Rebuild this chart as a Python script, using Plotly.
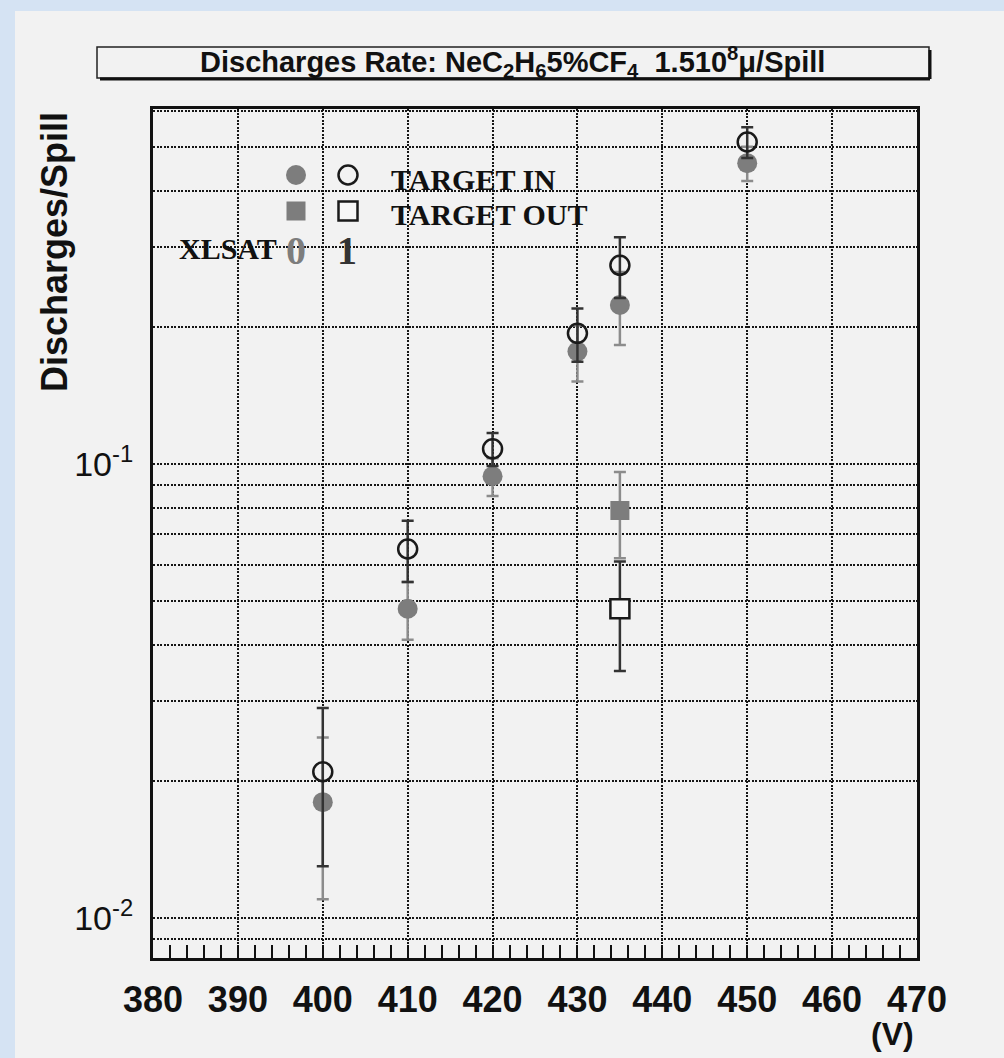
import plotly.graph_objects as go

# ---------------- data ----------------
voltage_in = [400, 410, 420, 430, 435, 450]
in_xlsat0 = [0.018, 0.048, 0.094, 0.177, 0.224, 0.46]
in_xlsat0_err = [0.007, 0.007, 0.009, 0.025, 0.041, 0.04]
in_xlsat1 = [0.021, 0.065, 0.108, 0.194, 0.274, 0.512]
in_xlsat1_err = [0.008, 0.010, 0.009, 0.026, 0.042, 0.04]

voltage_out = [435]
out_xlsat0 = [0.079]
out_xlsat0_err = [0.017]
out_xlsat1 = [0.048]
out_xlsat1_err = [0.013]

x_ticks = [380, 390, 400, 410, 420, 430, 440, 450, 460, 470]
y_major_ticks = [0.01, 0.1]
y_major_labels = ["10<sup>-2</sup>", "10<sup>-1</sup>"]
y_minor_ticks = [0.009, 0.02, 0.03, 0.04, 0.05, 0.06, 0.07, 0.08, 0.09,
                 0.2, 0.3, 0.4, 0.5, 0.6]

title_text = ("Discharges Rate: NeC<sub>2</sub>H<sub>6</sub>5%CF<sub>4</sub>"
              "&nbsp;&nbsp;1.510<sup>8</sup>\u03bc/Spill")

# ---------------- layout helpers ----------------
W, H = 1004, 1058
L, R, T, B = 153, 917, 109, 958


def fx(px):
    return (px - L) / (R - L)


def fy(py):
    return (B - py) / (B - T)


GRAY_BG = "#f2f2f2"
BLUE_BG = "#d5e3f3"
FILL_GRAY = "#7d7d7d"
GRID_COLOR = "#161616"
GRID_DASH = "2px,1.5px"

fig = go.Figure()

# filled (XLSAT 0) target in
fig.add_trace(go.Scatter(
    x=voltage_in, y=in_xlsat0, mode="markers",
    marker=dict(symbol="circle", size=20, color=FILL_GRAY),
    error_y=dict(type="data", array=in_xlsat0_err, color="#8c8c8c",
                 thickness=2.5, width=6),
    showlegend=False))
# filled (XLSAT 0) target out
fig.add_trace(go.Scatter(
    x=voltage_out, y=out_xlsat0, mode="markers",
    marker=dict(symbol="square", size=19, color=FILL_GRAY),
    error_y=dict(type="data", array=out_xlsat0_err, color="#8c8c8c",
                 thickness=2.5, width=6),
    showlegend=False))
# open (XLSAT 1) target in
fig.add_trace(go.Scatter(
    x=voltage_in, y=in_xlsat1, mode="markers",
    marker=dict(symbol="circle-open", size=19, color="#1a1a1a",
                line=dict(width=2.5, color="#1a1a1a")),
    error_y=dict(type="data", array=in_xlsat1_err, color="#333333",
                 thickness=2.5, width=6),
    showlegend=False))
# open (XLSAT 1) target out
fig.add_trace(go.Scatter(
    x=voltage_out, y=out_xlsat1, mode="markers",
    marker=dict(symbol="square", size=19, color="#f7f7f7",
                line=dict(width=2.5, color="#1a1a1a")),
    error_y=dict(type="data", array=out_xlsat1_err, color="#333333",
                 thickness=2.5, width=6),
    showlegend=False))

# legend markers on an overlay axis (0..1 frame of the plot area)
fig.add_trace(go.Scatter(
    x=[fx(296)], y=[fy(175)], xaxis="x2", yaxis="y2", mode="markers",
    marker=dict(symbol="circle", size=20, color=FILL_GRAY), showlegend=False))
fig.add_trace(go.Scatter(
    x=[fx(348)], y=[fy(175)], xaxis="x2", yaxis="y2", mode="markers",
    marker=dict(symbol="circle-open", size=19, color="#1a1a1a",
                line=dict(width=2.5, color="#1a1a1a")), showlegend=False))
fig.add_trace(go.Scatter(
    x=[fx(296)], y=[fy(211)], xaxis="x2", yaxis="y2", mode="markers",
    marker=dict(symbol="square", size=19, color=FILL_GRAY), showlegend=False))
fig.add_trace(go.Scatter(
    x=[fx(348)], y=[fy(211)], xaxis="x2", yaxis="y2", mode="markers",
    marker=dict(symbol="square", size=19, color="#f7f7f7",
                line=dict(width=2.5, color="#1a1a1a")), showlegend=False))

grid_style = dict(showgrid=True, gridcolor=GRID_COLOR, gridwidth=2,
                  griddash=GRID_DASH)

fig.update_layout(
    width=W, height=H,
    margin=dict(l=L, r=W - R, t=T, b=H - B, pad=0),
    paper_bgcolor=BLUE_BG,
    plot_bgcolor=GRAY_BG,
    hovermode=False,
    font=dict(family="Liberation Sans, Arial, sans-serif", color="#111111"),
    xaxis=dict(
        range=[380, 470], tickvals=x_ticks,
        ticktext=[str(v) for v in x_ticks],
        tickfont=dict(size=36, family="Liberation Sans, Arial, sans-serif",
                      weight="bold"),
        ticks="inside", ticklen=13, tickwidth=2, tickcolor="#111",
        minor=dict(dtick=2, tick0=380, ticks="inside", ticklen=13,
                   tickwidth=2, tickcolor="#111", showgrid=False),
        showline=True, linecolor="#111", linewidth=3, mirror=True,
        ticklabelstandoff=8, zeroline=False,
        **grid_style),
    yaxis=dict(
        type="log", range=[-2.088, -0.218],
        tickmode="array", tickvals=y_major_ticks, ticktext=y_major_labels,
        tickfont=dict(size=34, family="Liberation Sans, Arial, sans-serif"),
        ticks="", showline=True, linecolor="#111", linewidth=3, mirror=True,
        ticklabelstandoff=10, zeroline=False,
        minor=dict(tickmode="array", tickvals=y_minor_ticks, ticks="",
                   showgrid=True, gridcolor=GRID_COLOR, gridwidth=2,
                   griddash=GRID_DASH),
        **grid_style),
    xaxis2=dict(overlaying="x", range=[0, 1], visible=False),
    yaxis2=dict(overlaying="y", range=[0, 1], visible=False),
)

shapes = [
    # gray panel
    dict(type="rect", xref="paper", yref="paper", layer="below",
         x0=fx(15), x1=fx(W + 5), y0=fy(H + 5), y1=fy(11),
         fillcolor=GRAY_BG, line=dict(width=0)),
    # legend background hiding part of a grid line
    dict(type="rect", xref="paper", yref="paper", layer="between",
         x0=fx(383), x1=fx(603), y0=fy(194), y1=fy(186),
         fillcolor=GRAY_BG, line=dict(width=0)),
    # title box
    dict(type="rect", xref="paper", yref="paper", layer="above",
         x0=fx(97), x1=fx(929), y0=fy(78), y1=fy(47),
         fillcolor="rgba(0,0,0,0)", line=dict(width=1.5, color="#222")),
    dict(type="line", xref="paper", yref="paper", layer="above",
         x0=fx(100), x1=fx(930), y0=fy(79), y1=fy(79),
         line=dict(width=3, color="#111")),
    dict(type="line", xref="paper", yref="paper", layer="above",
         x0=fx(930), x1=fx(930), y0=fy(79), y1=fy(50),
         line=dict(width=3, color="#111")),
]
fig.update_layout(shapes=shapes)

annotations = [
    dict(text=title_text, xref="paper", yref="paper",
         x=fx(512), y=fy(62), xanchor="center", yanchor="middle",
         showarrow=False,
         font=dict(size=29, family="Liberation Sans, Arial, sans-serif",
                   color="#111", weight="bold")),
    dict(text="Discharges/Spill", xref="paper", yref="paper",
         x=fx(55), y=fy(252), xanchor="center", yanchor="middle",
         textangle=-90, showarrow=False,
         font=dict(size=36, family="Liberation Sans, Arial, sans-serif",
                   color="#111", weight="bold")),
    dict(text="(V)", xref="paper", yref="paper",
         x=fx(892), y=fy(1034), xanchor="center", yanchor="middle",
         showarrow=False,
         font=dict(size=32, family="Liberation Sans, Arial, sans-serif",
                   color="#111", weight="bold")),
    dict(text="TARGET IN", xref="paper", yref="paper",
         x=fx(389), y=fy(179), xanchor="left", yanchor="middle",
         showarrow=False,
         font=dict(size=30, family="Liberation Serif, Times New Roman, serif",
                   color="#111", weight="bold")),
    dict(text="TARGET OUT", xref="paper", yref="paper",
         x=fx(389), y=fy(214), xanchor="left", yanchor="middle",
         showarrow=False,
         font=dict(size=30, family="Liberation Serif, Times New Roman, serif",
                   color="#111", weight="bold")),
    dict(text="XLSAT", xref="paper", yref="paper",
         x=fx(177), y=fy(249), xanchor="left", yanchor="middle",
         showarrow=False,
         font=dict(size=30, family="Liberation Serif, Times New Roman, serif",
                   color="#111", weight="bold")),
    dict(text="0", xref="paper", yref="paper",
         x=fx(296), y=fy(251), xanchor="center", yanchor="middle",
         showarrow=False,
         font=dict(size=40, family="Liberation Serif, Times New Roman, serif",
                   color=FILL_GRAY, weight="bold")),
    dict(text="1", xref="paper", yref="paper",
         x=fx(347), y=fy(251), xanchor="center", yanchor="middle",
         showarrow=False,
         font=dict(size=40, family="Liberation Serif, Times New Roman, serif",
                   color="#333", weight="bold")),
]
fig.update_layout(annotations=annotations)

fig.write_html(
    "out.html",
    config={"displayModeBar": False, "staticPlot": True},
    post_script=("document.body.style.margin='0';"
                 "document.body.style.background='" + BLUE_BG + "';"))
